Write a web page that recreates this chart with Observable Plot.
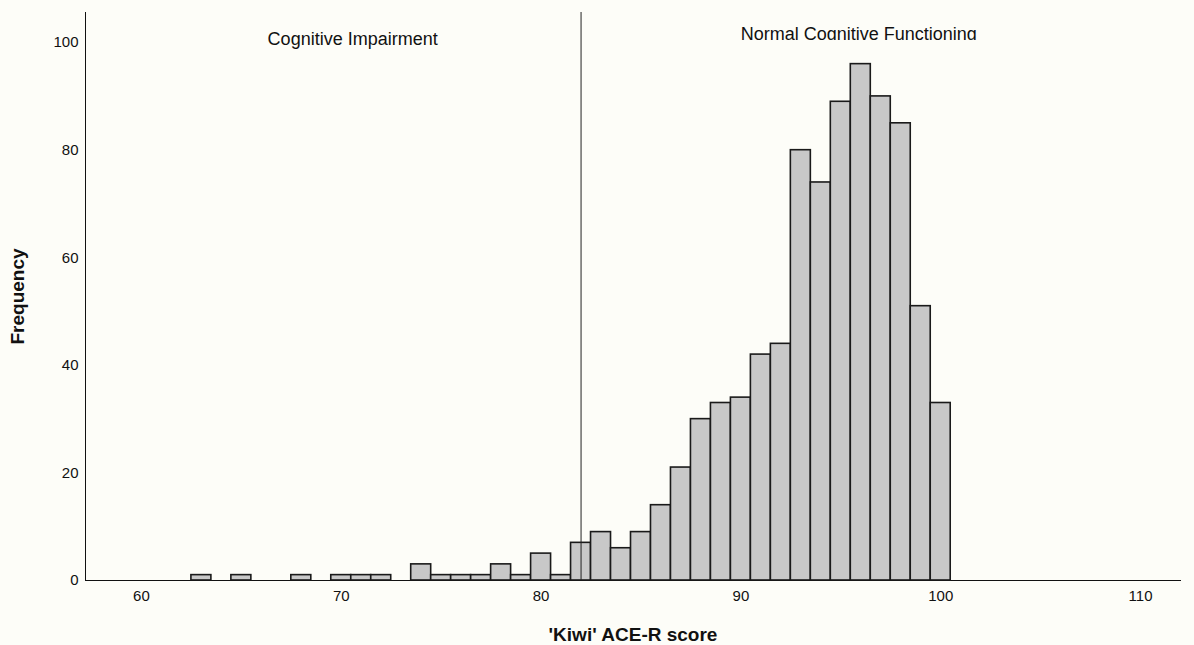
<!DOCTYPE html>
<html>
<head>
<meta charset="utf-8">
<script src="https://cdn.jsdelivr.net/npm/d3@7"></script>
<script src="https://cdn.jsdelivr.net/npm/@observablehq/plot@0.6"></script>
<style>
  html, body { margin: 0; padding: 0; background: #fdfdf8; }
  #chart svg { background: #fdfdf8; font-family: "Liberation Sans", Arial, sans-serif; }
  #chart svg [aria-label="x-axis label"] text,
  #chart svg [aria-label="y-axis label"] text { font-weight: bold; font-size: 19px; }
</style>
</head>
<body>
<div id="chart"></div>
<script>
// Scores (bin centres) and frequencies
const scores = [63, 65, 68, 70, 71, 72, 74, 75, 76, 77, 78, 79, 80, 81, 82, 83, 84, 85, 86, 87, 88, 89, 90, 91, 92, 93, 94, 95, 96, 97, 98, 99, 100];
const counts = [1, 1, 1, 1, 1, 1, 3, 1, 1, 1, 3, 1, 5, 1, 7, 9, 6, 9, 14, 21, 30, 33, 34, 42, 44, 80, 74, 89, 96, 90, 85, 51, 33];
const cutoff = [82];
const leftLabel = ["Cognitive Impairment"];
const rightLabel = ["Normal Cognitive Functioning"];
const xTicks = [60, 70, 80, 90, 100, 110];
const yTicks = [0, 20, 40, 60, 80, 100];

const bins = scores.map((s, i) => ({x1: s - 0.5, x2: s + 0.5, count: counts[i]}));

const chart = Plot.plot({
  width: 1194,
  height: 645,
  marginLeft: 85,
  marginRight: 14,
  marginTop: 12,
  marginBottom: 65,
  style: {background: "#fdfdf8", fontSize: "15px", color: "#111"},
  x: {domain: [57.2, 112], ticks: xTicks, tickSize: 0, tickPadding: 10, line: true,
      label: "'Kiwi' ACE-R score", labelAnchor: "center", labelOffset: 60, labelArrow: "none"},
  y: {domain: [0, 105.6], ticks: yTicks, tickSize: 0, tickPadding: 7, line: true,
      label: "Frequency", labelAnchor: "center", labelOffset: 75, labelArrow: "none"},
  marks: [
    Plot.rectY(bins, {x1: "x1", x2: "x2", y: "count", fill: "#c8c8c8", stroke: "#1a1a1a", strokeWidth: 1.6}),
    Plot.ruleX(cutoff, {stroke: "#222", strokeWidth: 1}),
    Plot.text(leftLabel, {x: 70.57, text: d => d, frameAnchor: "top", lineAnchor: "middle", dy: 26.5, fontSize: 18, fill: "#111"}),
    Plot.text(rightLabel, {x: 95.9, text: d => d, frameAnchor: "top", lineAnchor: "middle", dy: 21.5, fontSize: 18, fill: "#111", className: "clipped-label"})
  ]
});

// the right-hand label is cut off just below its baseline in the original
const svg = d3.select(chart);
svg.append("defs").append("clipPath").attr("id", "label-clip")
  .append("rect").attr("x", 0).attr("y", 0).attr("width", 1194).attr("height", 40);
const labelGroup = chart.querySelector(".clipped-label");
if (labelGroup) {
  const wrapper = document.createElementNS("http://www.w3.org/2000/svg", "g");
  wrapper.setAttribute("clip-path", "url(#label-clip)");
  labelGroup.parentNode.insertBefore(wrapper, labelGroup);
  wrapper.appendChild(labelGroup);
}

document.getElementById("chart").appendChild(chart);
</script>
</body>
</html>
